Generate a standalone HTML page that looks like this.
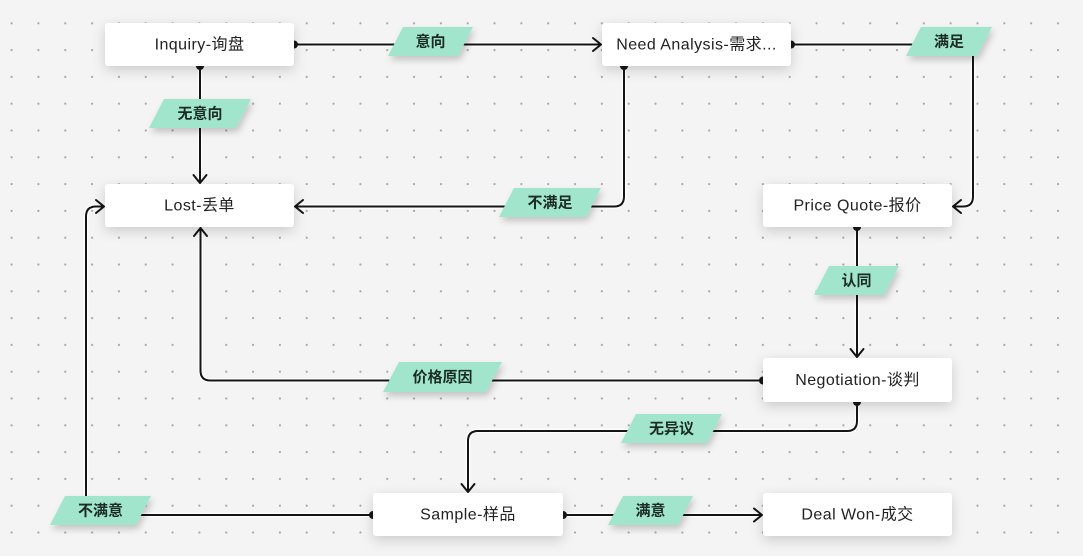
<!DOCTYPE html>
<html>
<head>
<meta charset="utf-8">
<style>
html,body{margin:0;padding:0;background:#f4f4f4;}
svg{display:block;}
.nt{font-family:"Liberation Sans","Noto Sans CJK SC",sans-serif;font-size:16px;letter-spacing:0.45px;fill:#222;text-anchor:middle;dominant-baseline:central;}
.lt{font-family:"Liberation Sans","Noto Sans CJK SC",sans-serif;font-size:15px;font-weight:bold;fill:#1d2b27;text-anchor:middle;dominant-baseline:central;}
.halo{fill:none;stroke:#ffffff;stroke-width:4.5;stroke-linejoin:round;stroke-linecap:round;}
.ln{fill:none;stroke:#141414;stroke-width:2;stroke-linejoin:round;}
.ah{fill:none;stroke:#141414;stroke-width:2;stroke-linejoin:miter;stroke-linecap:round;}
</style>
</head>
<body>
<svg width="1083" height="556" viewBox="0 0 1083 556" xmlns="http://www.w3.org/2000/svg">
<defs>
<pattern id="dots" patternUnits="userSpaceOnUse" x="-1.8" y="9.9" width="26.83" height="26.8">
<circle cx="13.4" cy="13.4" r="1.1" fill="#a6a6a6"/>
</pattern>
<filter id="nsh" x="-20%" y="-50%" width="140%" height="220%">
<feDropShadow dx="0" dy="4" stdDeviation="6" flood-color="#000" flood-opacity="0.17"/>
</filter>
<filter id="lsh" x="-20%" y="-40%" width="140%" height="200%">
<feDropShadow dx="2" dy="4" stdDeviation="3.5" flood-color="#000" flood-opacity="0.2"/>
</filter>
</defs>
<rect x="0" y="0" width="1083" height="556" fill="#f4f4f4"/>
<rect x="0" y="0" width="1083" height="556" fill="url(#dots)"/>

<g class="halo">
<path d="M294,44.5 H601"/>
<path d="M200,66 V183"/>
<path d="M791,44.5 H963 Q973,44.5 973,54.5 V196.5 Q973,206.5 963,206.5 H953"/>
<path d="M624,66 V196.5 Q624,206.5 614,206.5 H295"/>
<path d="M857,227 V357"/>
<path d="M763,380.5 H210.5 Q200.5,380.5 200.5,370.5 V228"/>
<path d="M857,402 V421 Q857,431 847,431 H478 Q468,431 468,441 V492"/>
<path d="M563,515 H762"/>
<path d="M373,515 H96 Q86,515 86,505 V216.5 Q86,206.5 96,206.5 H104"/>
</g>
<g class="ln">
<path d="M294,44.5 H601"/>
<path d="M200,66 V183"/>
<path d="M791,44.5 H963 Q973,44.5 973,54.5 V196.5 Q973,206.5 963,206.5 H953"/>
<path d="M624,66 V196.5 Q624,206.5 614,206.5 H295"/>
<path d="M857,227 V357"/>
<path d="M763,380.5 H210.5 Q200.5,380.5 200.5,370.5 V228"/>
<path d="M857,402 V421 Q857,431 847,431 H478 Q468,431 468,441 V492"/>
<path d="M563,515 H762"/>
<path d="M373,515 H96 Q86,515 86,505 V216.5 Q86,206.5 96,206.5 H104"/>
</g>
<g class="ah">
<polyline points="593,38 601,44.5 593,51"/>
<polyline points="193.5,175 200,183 206.5,175"/>
<polyline points="961,200 953,206.5 961,213"/>
<polyline points="303,200 295,206.5 303,213"/>
<polyline points="850.5,349 857,357 863.5,349"/>
<polyline points="194,236 200.5,228 207,236"/>
<polyline points="461.5,484 468,492 474.5,484"/>
<polyline points="754,508.5 762,515 754,521.5"/>
<polyline points="96,200 104,206.5 96,213"/>
</g>

<g filter="url(#nsh)" fill="#ffffff">
<rect x="105" y="23" width="189" height="43" rx="3"/>
<rect x="602" y="23" width="189" height="43" rx="3"/>
<rect x="105" y="184" width="189" height="43" rx="3"/>
<rect x="763" y="184" width="189" height="43" rx="3"/>
<rect x="763" y="358" width="189" height="44" rx="3"/>
<rect x="373" y="493" width="190" height="43" rx="3"/>
<rect x="763" y="493" width="189" height="43" rx="3"/>
</g>

<g fill="#141414">
<path d="M294,40.5 A4,4 0 0 1 294,48.5 Z"/>
<path d="M196,66 A4,4 0 0 0 204,66 Z"/>
<path d="M791,40.5 A4,4 0 0 1 791,48.5 Z"/>
<path d="M620,66 A4,4 0 0 0 628,66 Z"/>
<path d="M853,227 A4,4 0 0 0 861,227 Z"/>
<path d="M763,376.5 A4,4 0 0 0 763,384.5 Z"/>
<path d="M853,402 A4,4 0 0 0 861,402 Z"/>
<path d="M563,511 A4,4 0 0 1 563,519 Z"/>
<path d="M373,511 A4,4 0 0 0 373,519 Z"/>
</g>

<text class="nt" x="199.5" y="45">Inquiry-询盘</text>
<text class="nt" x="696.5" y="45">Need Analysis-需求...</text>
<text class="nt" x="199.5" y="206">Lost-丢单</text>
<text class="nt" x="857.5" y="206">Price Quote-报价</text>
<text class="nt" x="857.5" y="380.5">Negotiation-谈判</text>
<text class="nt" x="468" y="515">Sample-样品</text>
<text class="nt" x="857.5" y="515">Deal Won-成交</text>

<g filter="url(#lsh)" fill="#a0e5cc">
<polygon points="403,27 473,27 458,56 388,56"/>
<polygon points="164,99 251,99 236,128 149,128"/>
<polygon points="921,27 992,27 977,56 906,56"/>
<polygon points="514,188 601,188 586,217 499,217"/>
<polygon points="829,266 899,266 884,295 814,295"/>
<polygon points="399,362 502,362 486,392 383,392"/>
<polygon points="636,414 722,414 707,443 621,443"/>
<polygon points="623,496 693,496 678,525 608,525"/>
<polygon points="65,496 151,496 136,525 50,525"/>
</g>
<text class="lt" x="430.5" y="42">意向</text>
<text class="lt" x="200" y="114">无意向</text>
<text class="lt" x="949" y="42">满足</text>
<text class="lt" x="550" y="203">不满足</text>
<text class="lt" x="856.5" y="281">认同</text>
<text class="lt" x="442.5" y="377.5">价格原因</text>
<text class="lt" x="671.5" y="429">无异议</text>
<text class="lt" x="650.5" y="511">满意</text>
<text class="lt" x="100.5" y="511">不满意</text>
</svg>
</body>
</html>
